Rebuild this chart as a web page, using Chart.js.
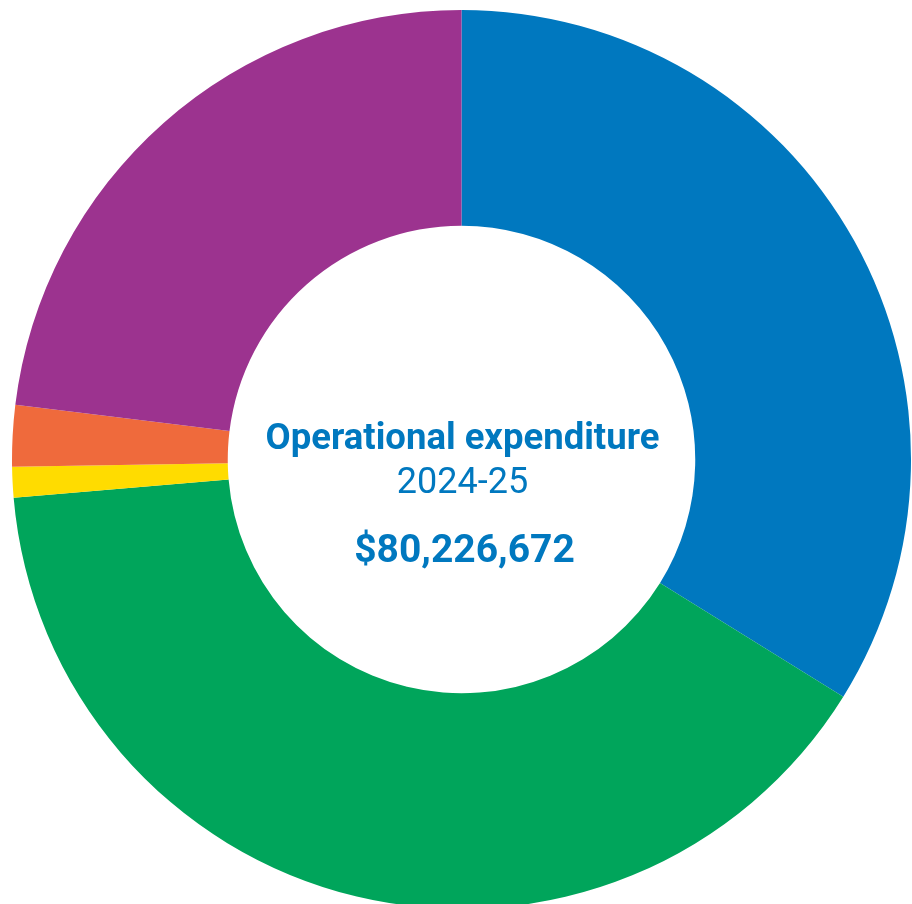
<!DOCTYPE html>
<html>
<head>
<meta charset="utf-8">
<title>Operational expenditure 2024-25</title>
<script src="https://cdn.jsdelivr.net/npm/chart.js@4/dist/chart.umd.min.js"></script>
<style>
  html, body { margin: 0; padding: 0; background: #fff; overflow: hidden; }
  #wrap { position: absolute; left: 12px; top: 10px; width: 899px; height: 899px; }
</style>
</head>
<body>
<div id="wrap"><canvas id="opex" width="899" height="899"></canvas></div>
<script>
// expenditure split (dollars), clockwise from 12 o'clock
const segments = ["Segment 1", "Segment 2", "Segment 3", "Segment 4", "Segment 5"];
const amounts = [27156728, 31922193, 882493, 1764987, 18500271];
const colours = ["#0078BF", "#00A55B", "#FFDC00", "#EF6A3C", "#9C338F"];

const titleLine = "Operational expenditure";
const yearLine = "2024-25";

const total = amounts.reduce((a, b) => a + b, 0);
const totalLabel = "$" + total.toLocaleString("en-US");

// writes the three centre lines inside the hole
const centreText = {
  id: "centreText",
  afterDraw(chart) {
    const { ctx } = chart;
    const meta = chart.getDatasetMeta(0).data[0];
    const x = meta.x;
    const y = meta.y;
    ctx.save();
    ctx.fillStyle = "#0078BF";
    ctx.textAlign = "center";
    ctx.textBaseline = "alphabetic";
    ctx.font = "bold 36.5px Roboto";
    ctx.fillText(titleLine, x + 1, y - 11);
    ctx.font = "36px Roboto";
    ctx.fillText(yearLine, x + 1, y + 33);
    ctx.font = "bold 39px Roboto";
    ctx.fillText(totalLabel, x + 3, y + 102);
    ctx.restore();
  }
};

new Chart(document.getElementById("opex"), {
  type: "doughnut",
  data: {
    labels: segments,
    datasets: [{
      data: amounts,
      backgroundColor: colours,
      borderWidth: 0,
      hoverOffset: 0
    }]
  },
  options: {
    responsive: false,
    animation: false,
    cutout: "52%",
    layout: { padding: 0 },
    plugins: {
      legend: { display: false },
      tooltip: { enabled: false }
    }
  },
  plugins: [centreText]
});
</script>
</body>
</html>
